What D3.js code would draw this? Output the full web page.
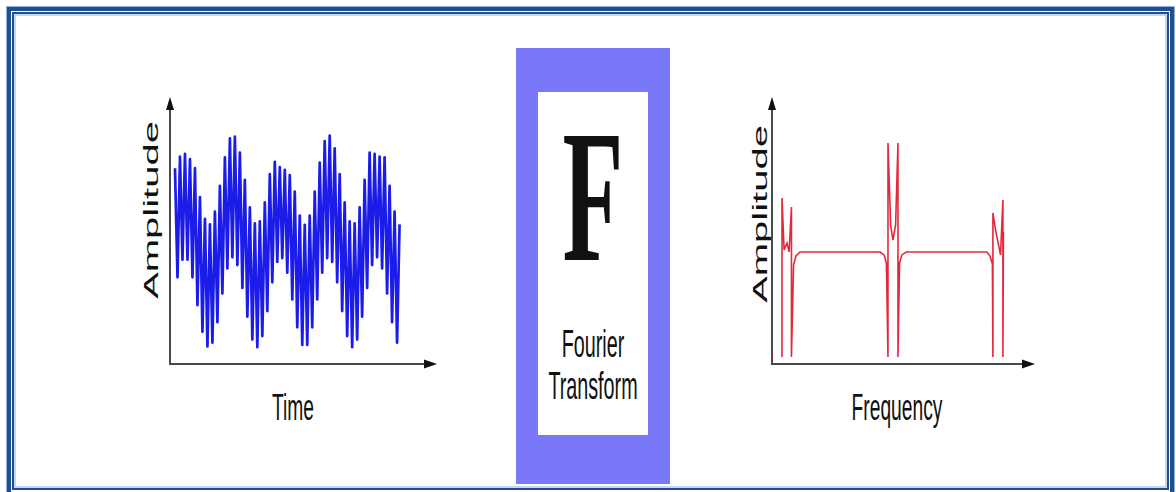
<!DOCTYPE html>
<html><head><meta charset="utf-8">
<script src="https://cdn.jsdelivr.net/npm/d3@7"></script>
<style>html,body{margin:0;padding:0;background:#fff;}svg{display:block;}</style>
</head><body>
<script>
// ---- data ----
// time-domain signal: alternating extremes of the fast oscillation (sample index 0..90)
const timeSignal = [73.6,32.6,78,39.2,79,39.2,77,32.6,73.6,22.1,62.7,12.1,54.6,6.6,52.5,8.0,57.3,15.7,67.0,26.5,
  77.7,35.9,84.8,40.1,85.5,37.2,79.5,28.6,69.2,17.8,58.9,9.2,52.9,6.3,53.6,10.5,60.8,19.9,71.4,30.7,
  76,38.4,74,39.8,73,34.3,71,24.3,64.8,13.8,55.8,7.2,52.3,7.2,55.8,13.8,64.8,24.3,75.7,34.3,
  83.8,39.8,85.9,38.4,81.1,30.7,71.4,19.9,60.8,10.5,53.6,6.3,52.9,9.2,58.9,17.8,69.2,28.6,79.5,37.2,
  79,40.1,78,35.9,77.7,26.5,67.0,15.7,57.3,8.0,52.5];
// frequency-domain spectrum (frequency, amplitude)
const specFreq = [3.8,3.8,4.6,5.7,6.5,7.4,7.4,8.2,9.1,10.6,41.1,42.6,43.5,44.1,44.1,45.1,46.0,47.0,47.9,47.9,48.5,49.4,51.0,81.7,82.9,83.8,84.0,84.0,85.0,85.9,86.9,87.8,87.8,88.0];
const specAmp  = [2.6,62.4,42.9,45.5,42.1,59.0,2.6,37.2,40.6,42.1,42.1,41.0,38.0,2.6,83.1,52.3,46.6,52.3,83.1,2.6,38.0,41.0,42.1,42.1,40.6,37.6,2.6,56.8,50.4,45.9,41.0,61.7,2.6,49.6];
const labels = {yLeft:"Amplitude", xLeft:"Time", yRight:"Amplitude", xRight:"Frequency", big:"F", box1:"Fourier", box2:"Transform"};

const W = 1176, H = 492;
const svg = d3.select("body").append("svg").attr("width", W).attr("height", H);
svg.append("rect").attr("width", W).attr("height", H).attr("fill", "#fff");

// ---- frame ----
const dark = "#1f4f8c", light = "#8fb0d8";
svg.append("rect").attr("x",6.5).attr("y",6.5).attr("width",1168).attr("height",500).attr("fill","none").attr("stroke",light).attr("stroke-width",1);
svg.append("rect").attr("x",9).attr("y",9).attr("width",1163).attr("height",495).attr("fill","none").attr("stroke",dark).attr("stroke-width",4);
svg.append("rect").attr("x",13).attr("y",13).attr("width",1155).attr("height",476).attr("fill","none").attr("stroke",dark).attr("stroke-width",2);
svg.append("rect").attr("x",15).attr("y",15).attr("width",1151).attr("height",472).attr("fill","none").attr("stroke",light).attr("stroke-width",1);

// ---- helpers ----
function arrowAxes(g, x0, x1, y0, y1) {
  g.append("path").attr("d", `M${x0},${y1+10}V${y0}H${x1-10}`).attr("fill","none").attr("stroke","#4a4a4a").attr("stroke-width",2);
  g.append("path").attr("d", `M${x0},${y1}L${x0-4},${y1+13}L${x0+4},${y1+13}Z`).attr("fill","#111");
  g.append("path").attr("d", `M${x1},${y0}L${x1-13},${y0-4.5}L${x1-13},${y0+4.5}Z`).attr("fill","#111");
}
function sqText(g, txt, x, y, size, rot, anchor, family, weight, sx) {
  g.append("text").attr("transform", `translate(${x},${y}) scale(${sx||0.52},1) rotate(${rot})`)
    .attr("text-anchor", anchor||"middle").attr("font-family", family||"'Liberation Sans', Arial, sans-serif")
    .attr("font-size", size).attr("font-weight", weight||"normal").attr("fill", "#111").text(txt);
}

// ---- left chart (time domain) ----
const xT = d3.scaleLinear().domain([-2, 105]).range([170, 437]);
const yT = d3.scaleLinear().domain([0, 100]).range([364, 98]);
const gL = svg.append("g");
gL.append("path").datum(timeSignal)
  .attr("d", d3.line().x((d,i)=>xT(i)).y(d=>yT(d)))
  .attr("fill","none").attr("stroke","#1c1ce8").attr("stroke-width",2.7).attr("stroke-linejoin","round");
arrowAxes(gL, xT(-2), xT(105), yT(0), yT(100)-1);
sqText(gL, labels.yLeft, 158, 210, 40, -90);
sqText(gL, labels.xLeft, 293, 420, 37, 0);

// ---- centre box ----
svg.append("rect").attr("x",516).attr("y",48).attr("width",154).attr("height",436).attr("fill","#7878f8");
svg.append("rect").attr("x",538).attr("y",92).attr("width",110).attr("height",343).attr("fill","#fff");
sqText(svg, labels.big, 593, 260, 188, 0, "middle", "'Liberation Serif','Times New Roman',serif", "bold", 0.53);
sqText(svg, labels.box1, 593, 357, 38, 0);
sqText(svg, labels.box2, 593, 399, 38, 0);

// ---- right chart (frequency domain) ----
const xF = d3.scaleLinear().domain([0, 100]).range([772, 1035]);
const yF = d3.scaleLinear().domain([0, 100]).range([364, 98]);
const gR = svg.append("g");
gR.append("path").datum(d3.zip(specFreq, specAmp))
  .attr("d", d3.line().x(d=>xF(d[0])).y(d=>yF(d[1])))
  .attr("fill","none").attr("stroke","#e3283a").attr("stroke-width",1.6);
arrowAxes(gR, xF(0), xF(100), yF(0), yF(100)-1);
sqText(gR, labels.yRight, 767, 214, 40, -90);
sqText(gR, labels.xRight, 897, 420, 37, 0);
</script>
</body></html>
